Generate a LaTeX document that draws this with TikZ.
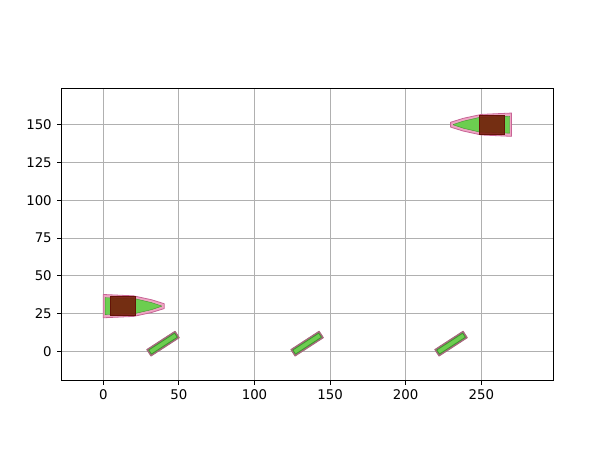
\documentclass[tikz,border=0pt]{standalone}
\usepackage{fontspec}
\setmainfont{DejaVu Sans}
\definecolor{gridc}{HTML}{B0B0B0}
\definecolor{pinkfill}{RGB}{238,165,195}
\definecolor{pinkedge}{RGB}{200,100,150}
\definecolor{greenfill}{RGB}{108,206,80}
\definecolor{greenedge}{RGB}{60,150,45}
\definecolor{darkredc}{RGB}{118,24,10}
\definecolor{mauve}{RGB}{165,105,125}
\begin{document}
\begin{tikzpicture}[x=1.134pt,y=1.134pt,
  font=\fontsize{10}{12}\selectfont,
  gridline/.style={draw=gridc, line width=0.83pt},
  spine/.style={draw=black, line width=0.83pt},
  tickmark/.style={draw=black, line width=0.83pt},
  xlab/.style={anchor=north, inner sep=0pt},
  ylab/.style={anchor=east, inner sep=0pt},
  outerpink/.style={fill=pinkfill, draw=pinkedge, line width=0.6pt, line join=round},
  innergreen/.style={fill=greenfill, draw=greenedge, line width=0.3pt, line join=round},
  cabin/.style={fill=darkredc, fill opacity=0.88, draw=darkredc!85!black, line width=0.4pt},
  barout/.style={fill=mauve, draw=mauve, line width=0.6pt, line join=round},
  barin/.style={fill=greenfill, draw=greenedge, line width=0.6pt, line join=round}]
\useasboundingbox (-68.32,-71.76) rectangle (337.76,232.47);
% grid
\foreach \gx in {0,50,...,250} {\draw[gridline] (\gx,-18.9) -- (\gx,174.1);}
\foreach \gy in {0,25,...,150} {\draw[gridline] (-27.5,\gy) -- (297.6,\gy);}
% car 1 (pointing right)
\draw[outerpink] (0,37.7) -- (20,36.8) -- (32,34.2) -- (40.3,31.6) -- (40.3,28.4) -- (32,25.8) -- (20,23.2) -- (0,22.3) -- cycle;
\draw[innergreen] (1.2,35.6) -- (21,34.9) -- (32,32.3) -- (38.6,30.1) -- (38.6,29.9) -- (32,27.7) -- (21,25.1) -- (1.2,24.4) -- cycle;
\draw[cabin] (4.8,23.8) rectangle (21.3,36.2);
% car 2 (pointing left)
\begin{scope}[shift={(270,120)}, xscale=-1]
\draw[outerpink] (0,37.7) -- (20,36.8) -- (32,34.2) -- (40.3,31.6) -- (40.3,28.4) -- (32,25.8) -- (20,23.2) -- (0,22.3) -- cycle;
\draw[innergreen] (1.2,35.6) -- (21,34.9) -- (32,32.3) -- (38.6,30.1) -- (38.6,29.9) -- (32,27.7) -- (21,25.1) -- (1.2,24.4) -- cycle;
\draw[cabin] (4.8,23.8) rectangle (21.3,36.2);
\end{scope}
% small bars
\foreach \cx in {39.5,134.8,230} {
  \begin{scope}[shift={(\cx,5.2)}, rotate=33]
    \draw[barout] (-11.2,-2.6) rectangle (11.2,2.6);
    \draw[barin] (-10.2,-1.6) rectangle (10.2,1.6);
  \end{scope}
}
% spines
\draw[spine] (-27.5,-18.9) rectangle (297.6,174.1);
% ticks and labels
\foreach \gx in {0,50,...,250} {
  \draw[tickmark] (\gx,-18.9) -- ++(0pt,-3.65pt);
  \node[xlab] (xl\gx) at ([yshift=-7.3pt]\gx,-18.9) {\gx};
}
\foreach \gy in {0,25,...,150} {
  \draw[tickmark] (-27.5,\gy) -- ++(-3.65pt,0pt);
  \node[ylab] (yl\gy) at ([xshift=-7.3pt]-27.5,\gy) {\gy};
}
\end{tikzpicture}
\end{document}
